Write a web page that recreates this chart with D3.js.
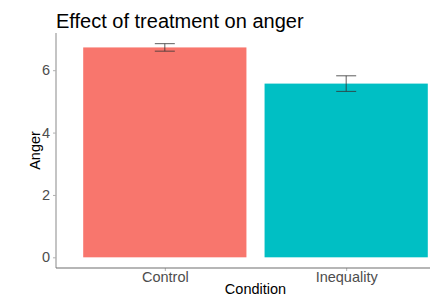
<!DOCTYPE html>
<html>
<head>
<meta charset="utf-8">
<script src="https://cdn.jsdelivr.net/npm/d3@7"></script>
<style>
  body { margin: 0; background: #fff; }
  svg { display: block; font-family: "Liberation Sans", Arial, sans-serif; }
</style>
</head>
<body>
<div id="chart"></div>
<script>
const conditions = ["Control", "Inequality"];
const meanAnger = [6.73, 5.57];
const seAnger = [0.12, 0.25];
const yTicks = [0, 2, 4, 6];
const barColors = ["#F8766D", "#00BFC4"];

const width = 430, height = 296;
// panel runs past the right edge of the picture, like the cropped original
const panel = { left: 56, right: 455, top: 33, bottom: 268 };

const svg = d3.select("#chart")
  .append("svg")
  .attr("width", width)
  .attr("height", height);

const yMax = d3.max(meanAnger.map((m, i) => m + seAnger[i]));
const pad = yMax * 0.05;
const y = d3.scaleLinear()
  .domain([-pad, yMax + pad])
  .range([panel.bottom, panel.top]);

const x = d3.scalePoint()
  .domain(conditions)
  .range([panel.left, panel.right])
  .padding(0.6);
const barW = x.step() * 0.9;
const errW = 20;

const data = conditions.map((c, i) => ({
  cond: c, mean: meanAnger[i], se: seAnger[i], color: barColors[i]
}));

// bars
svg.append("g")
  .selectAll("rect")
  .data(data)
  .enter()
  .append("rect")
  .attr("x", d => x(d.cond) - barW / 2)
  .attr("y", d => y(d.mean))
  .attr("width", barW)
  .attr("height", d => y(0) - y(d.mean))
  .style("fill", d => d.color);

// error bars
const err = svg.append("g")
  .selectAll("g")
  .data(data)
  .enter()
  .append("g")
  .style("stroke", "#333")
  .style("stroke-width", 0.8);
err.append("line")
  .attr("x1", d => x(d.cond)).attr("x2", d => x(d.cond))
  .attr("y1", d => y(d.mean + d.se)).attr("y2", d => y(d.mean - d.se));
err.append("line")
  .attr("x1", d => x(d.cond) - errW / 2).attr("x2", d => x(d.cond) + errW / 2)
  .attr("y1", d => y(d.mean + d.se)).attr("y2", d => y(d.mean + d.se));
err.append("line")
  .attr("x1", d => x(d.cond) - errW / 2).attr("x2", d => x(d.cond) + errW / 2)
  .attr("y1", d => y(d.mean - d.se)).attr("y2", d => y(d.mean - d.se));

// y axis
const yAxis = svg.append("g")
  .attr("transform", `translate(${panel.left},0)`)
  .call(d3.axisLeft(y).tickValues(yTicks).tickSize(3).tickPadding(3));
yAxis.select(".domain").remove();
yAxis.selectAll(".tick line").style("stroke", "#b0b0b0");
yAxis.selectAll(".tick text")
  .style("fill", "#4d4d4d")
  .style("font-size", "14.5px")
  .style("font-family", "Liberation Sans, Arial, sans-serif");
svg.append("line")
  .attr("x1", panel.left).attr("x2", panel.left)
  .attr("y1", panel.top).attr("y2", panel.bottom)
  .style("stroke", "#b0b0b0")
  .style("stroke-width", 1.5);

// x axis
const xAxis = svg.append("g")
  .attr("transform", `translate(0,${panel.bottom})`)
  .call(d3.axisBottom(x).tickSize(3).tickPadding(1));
xAxis.select(".domain").remove();
xAxis.selectAll(".tick line").style("stroke", "#b0b0b0");
xAxis.selectAll(".tick text")
  .style("fill", "#4d4d4d")
  .style("font-size", "14.5px")
  .style("font-family", "Liberation Sans, Arial, sans-serif");
svg.append("line")
  .attr("x1", panel.left).attr("x2", panel.right)
  .attr("y1", panel.bottom).attr("y2", panel.bottom)
  .style("stroke", "#6e6e6e")
  .style("stroke-width", 1.2);

// titles
svg.append("text")
  .attr("x", panel.left)
  .attr("y", 28)
  .style("font-size", "20px")
  .style("fill", "#000")
  .text("Effect of treatment on anger");

svg.append("text")
  .attr("x", (panel.left + panel.right) / 2)
  .attr("y", 294)
  .attr("text-anchor", "middle")
  .style("font-size", "14.5px")
  .style("fill", "#000")
  .text("Condition");

svg.append("text")
  .attr("transform", `translate(40,${(panel.top + panel.bottom) / 2}) rotate(-90)`)
  .attr("text-anchor", "middle")
  .style("font-size", "14.5px")
  .style("fill", "#000")
  .text("Anger");
</script>
</body>
</html>
